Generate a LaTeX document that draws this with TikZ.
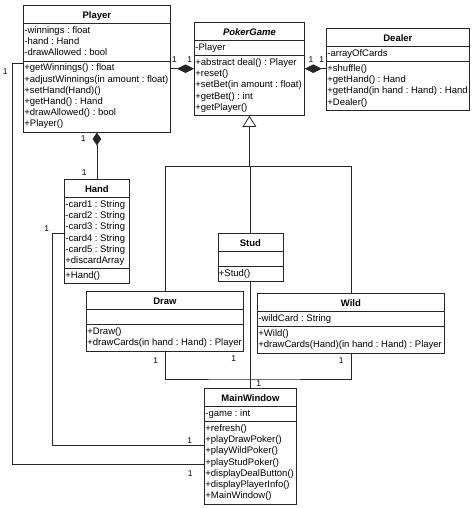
\documentclass[tikz,border=0pt]{standalone}
\usepackage{fontspec}
\setmainfont{Liberation Sans}
\usetikzlibrary{arrows.meta,positioning,shapes.multipart,calc}

\newcommand{\clstitle}[1]{\rule[-3.5pt]{0pt}{14.5pt}\textbf{#1}}

\begin{document}
\begin{tikzpicture}[
    x=1pt, y=-1pt,
    umlclass/.style={rectangle split, rectangle split parts=3, rectangle split part align={center,left,left}, draw=black!85, line width=0.8pt, inner xsep=1pt, inner ysep=1.5pt, minimum width=#1, align=left, anchor=north west, font=\fontsize{9.5}{11.2}\selectfont\frenchspacing},
    mult/.style={font=\fontsize{8.5}{10}\selectfont, inner sep=1pt},
    link/.style={draw=black!85, line width=0.8pt},
    comp/.style={link, {Diamond[length=#1,width=8.5pt]}-},
    comp/.default=17pt,
    gen/.style={link, -{Triangle[open,length=11pt,width=14pt]}}
]
\useasboundingbox (0,0) rectangle (474,508);

\node[umlclass=147pt] (player) at (23,5) {\clstitle{Player}
  \nodepart{two}\strut-winnings : float\\-hand : Hand\\-drawAllowed : bool\strut
  \nodepart{three}\strut+getWinnings() : float\\+adjustWinnings(in amount : float)\\+setHand(Hand)()\\+getHand() : Hand\\+drawAllowed() : bool\\+Player()\strut};
\node[umlclass=110pt] (pokergame) at (194,22) {\clstitle{\textit{PokerGame}}
  \nodepart{two}\strut-Player\strut
  \nodepart{three}\strut+abstract deal() : Player\\+reset()\\+setBet(in amount : float)\\+getBet() : int\\+getPlayer()\strut};
\node[umlclass=143pt] (dealer) at (326,28) {\clstitle{Dealer}
  \nodepart{two}\strut-arrayOfCards\strut
  \nodepart{three}\strut+shuffle()\\+getHand() : Hand\\+getHand(in hand : Hand) : Hand\\+Dealer()\strut};
\node[umlclass=65pt] (hand) at (64,179) {\clstitle{Hand}
  \nodepart{two}\strut-card1 : String\\-card2 : String\\-card3 : String\\-card4 : String\\-card5 : String\\+discardArray\strut
  \nodepart{three}\strut+Hand()\strut};
\node[umlclass=65pt] (stud) at (217.5,233) {\clstitle{Stud}
  \nodepart{two}\strut
  \nodepart{three}\strut+Stud()\strut};
\node[umlclass=157pt] (draw) at (86,291) {\clstitle{Draw}
  \nodepart{two}\strut
  \nodepart{three}\strut+Draw()\\+drawCards(in hand : Hand) : Player\strut};
\node[umlclass=187pt] (wild) at (257,293) {\clstitle{Wild}
  \nodepart{two}\strut-wildCard : String\strut
  \nodepart{three}\strut+Wild()\\+drawCards(Hand)(in hand : Hand) : Player\strut};
\node[umlclass=92pt] (mainwindow) at (204,388) {\clstitle{MainWindow}
  \nodepart{two}\strut-game : int\strut
  \nodepart{three}\strut+refresh()\\+playDrawPoker()\\+playWildPoker()\\+playStudPoker()\\+displayDealButton()\\+displayPlayerInfo()\\+MainWindow()\strut};

\coordinate (pgL) at ($(pokergame.two split west)+(0,13)$);
\coordinate (pgR) at ($(pokergame.two split east)+(0,13)$);
\draw[comp] (pgL) node[mult, above left=5pt and 0.5pt] (m1) {1} -- (pgL -| player.east) node[mult, above right=5pt and 0pt] (m2) {1};
\draw[comp] (pgR) node[mult, above right=5pt and 2.5pt] (m3) {1} -- (pgR -| dealer.west) node[mult, above left=5pt and 0.5pt] (m4) {1};
\draw[comp=13pt] (player.south) node[mult, below left=2pt and 10pt] (m5) {1} -- (hand.north) node[mult, above left=2pt and 9pt] (m6) {1};

\coordinate (genbus) at ($(pokergame.south)+(0,50)$);
\draw[gen] (genbus) -- (pokergame.south);
\draw[link] (draw.north) |- (genbus) -| (wild.north);
\draw[link] (stud.north) -- (stud.north |- genbus);

\coordinate (mwbus) at ($(mainwindow.north)+(0,-9)$);
\draw[link] (draw.south) node[mult, below left=5pt and 5.5pt] (m7) {1} |- (mwbus) -| (wild.south) node[mult, below left=3pt and 6pt] (m8) {1};
\draw[link] (stud.south) -- node[mult, pos=0.72, left=13pt] (m9) {1} (mainwindow.north) node[mult, above right=0pt and 4.5pt] (m10) {1};

\draw[link] ($(player.two split west)+(0,2)$) -- ++(-11,0) node[mult, below left=4pt and 3pt] (m11) {1} |- ($(mainwindow.two split west)+(0,43)$) node[mult, below left=5pt and 10pt] (m12) {1};
\draw[link] ($(hand.text split west)!0.5!(hand.two split west)$) -- ++(-12,0) node[mult, above left=0pt and 1.5pt] (m13) {1} |- ($(mainwindow.two split west)+(0,24)$) node[mult, above left=1pt and 10.5pt] (m14) {1};

\end{tikzpicture}
\end{document}
